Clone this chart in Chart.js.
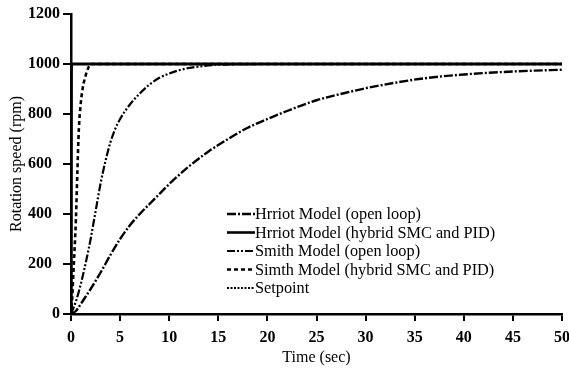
<!DOCTYPE html>
<html>
<head>
<meta charset="utf-8">
<script src="https://cdn.jsdelivr.net/npm/chart.js@4.4.0/dist/chart.umd.min.js"></script>
<style>
html,body{margin:0;padding:0;background:#fff;}
#wrap{width:569px;height:377px;position:relative;}
</style>
</head>
<body>
<div id="wrap"><canvas id="c" width="569" height="377"></canvas></div>
<script>
// ---- data ----
const seriesLabels = [
  "Hrriot Model (open loop)",
  "Hrriot Model (hybrid SMC and PID)",
  "Smith Model (open loop)",
  "Simth Model (hybrid SMC and PID)",
  "Setpoint"
];
const hrriotOpenT = [0,0.5,1,1.5,2,3,4,5,6,7,8,9,10,12,14,16,18,20,22,25,28,30,33,36,40,45,50];
const hrriotOpenV = [0,12,40,70,100,165,235,300,355,400,440,480,520,590,650,700,745,780,812,855,885,903,925,943,958,970,977];
const hrriotHybT = [0,0.03,0.06,50];
const hrriotHybV = [0,950,1000,1000];
const smithOpenT = [0,0.5,1,1.5,2,2.5,3,3.5,4,4.5,5,6,7,8,9,10,11,12,13,14,15,17,20,25,30,35,40,45,50];
const smithOpenV = [0,50,120,205,300,410,520,610,685,740,780,838,882,918,945,962,975,984,990,994,997,999,1000,1000,1000,1000,1000,1000,1000];
const smithHybT = [0,0.1,0.25,0.5,0.65,0.8,1,1.2,1.5,1.8,2.1,3,5,10,20,30,40,50];
const smithHybV = [0,50,170,380,570,740,845,905,955,988,1000,1000,1000,1000,1000,1000,1000,1000];
const setpointT = [0,50];
const setpointV = [1000,1000];
const xTicks = [0,5,10,15,20,25,30,35,40,45,50];
const yTicks = [0,200,400,600,800,1000,1200];

const pts = (t,v) => t.map((x,i)=>({x:x,y:v[i]}));
const FONT = "'Liberation Serif','Times New Roman',serif";

const styles = [
  {dash:[9,2,2,2], w:2.4, order:3},
  {dash:[], w:3, order:4},
  {dash:[8,2,2,2,2,2], w:2.2, order:2},
  {dash:[4,3], w:2.6, order:1},
  {dash:[2,1.5], w:2.2, order:0}
];
const allData = [
  pts(hrriotOpenT,hrriotOpenV),
  pts(hrriotHybT,hrriotHybV),
  pts(smithOpenT,smithOpenV),
  pts(smithHybT,smithHybV),
  pts(setpointT,setpointV)
];

const datasets = allData.map((d,i)=>({
  label: seriesLabels[i],
  data: d,
  borderColor: '#000',
  backgroundColor: '#000',
  borderWidth: styles[i].w,
  borderDash: styles[i].dash,
  pointRadius: 0,
  fill: false,
  cubicInterpolationMode: 'monotone',
  order: styles[i].order
}));

const legendPlugin = {
  id: 'inlegend',
  afterDraw(chart){
    const ctx = chart.ctx;
    const x0 = 227, len = 28, y0 = 214, dy = 18.5;
    ctx.save();
    ctx.font = "16.3px " + FONT;
    ctx.fillStyle = '#000';
    ctx.textBaseline = 'middle';
    ctx.textAlign = 'left';
    chart.data.datasets.forEach((ds,i)=>{
      const y = y0 + i*dy;
      ctx.beginPath();
      ctx.setLineDash(ds.borderDash);
      ctx.lineWidth = Math.min(ds.borderWidth, 2.6);
      ctx.strokeStyle = '#000';
      ctx.moveTo(x0, y);
      ctx.lineTo(x0+len, y);
      ctx.stroke();
      ctx.setLineDash([]);
      ctx.fillText(ds.label, x0+len, y+1);
    });
    ctx.restore();
  }
};

new Chart(document.getElementById('c'), {
  type: 'line',
  data: { datasets: datasets },
  options: {
    responsive: false,
    animation: false,
    layout: { padding: { left: 0, right: 7, top: 14, bottom: 0 } },
    plugins: { legend: { display: false }, tooltip: { enabled: false } },
    scales: {
      x: {
        type: 'linear', min: 0, max: 50,
        afterBuildTicks: s => { s.ticks = xTicks.map(v=>({value:v})); },
        ticks: { color:'#000', font:{family:FONT, size:16, weight:'bold'}, padding: 7, maxRotation:0, autoSkip:false },
        grid: { display:true, drawOnChartArea:false, drawTicks:true, tickLength:7, color:'#000', lineWidth:2 },
        border: { display:true, color:'#000', width:2.5 },
        title: { display:true, text:'Time (sec)', color:'#000', font:{family:FONT, size:16}, padding:{top:0,bottom:10} },
        afterFit: s => { s.height = 63; s.paddingLeft = 0; s.paddingRight = 0; }
      },
      y: {
        type: 'linear', min: 0, max: 1200,
        afterBuildTicks: s => { s.ticks = yTicks.map(v=>({value:v})); },
        ticks: { color:'#000', font:{family:FONT, size:16, weight:'bold'}, padding: 3,
          callback: v => (v>=1000 || v===0) ? String(v) : String(v)+'\u2007' },
        grid: { display:true, drawOnChartArea:false, drawTicks:true, tickLength:8, color:'#000', lineWidth:2 },
        border: { display:true, color:'#000', width:2.5 },
        title: { display:true, text:'Rotation speed (rpm)', color:'#000', font:{family:FONT, size:16}, padding:{top:7,bottom:0} },
        afterFit: s => { s.width = 71; s.paddingTop = 0; s.paddingBottom = 0; }
      }
    }
  },
  plugins: [legendPlugin]
});
</script>
</body>
</html>
